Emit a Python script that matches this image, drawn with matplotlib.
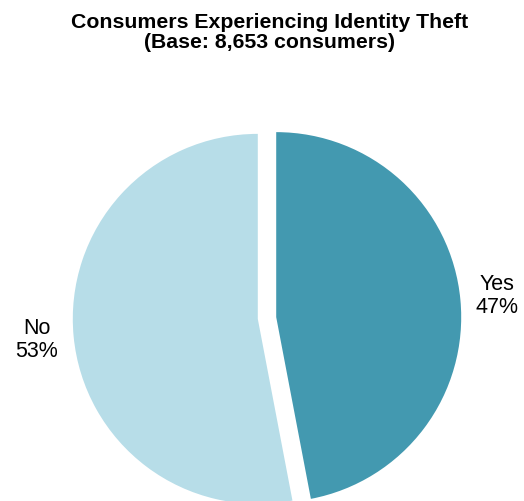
import matplotlib
matplotlib.use('Agg')
import matplotlib.pyplot as plt

plt.rcParams['font.family'] = ['Liberation Sans', 'DejaVu Sans']

labels = ['Yes', 'No']
shares = [47, 53]
colors = ['#4399b0', '#b7dde8']

fig = plt.figure(figsize=(5.24, 5.01), dpi=100)
ax = fig.add_axes([0, 0, 1, 1])

wedges, texts = ax.pie(shares, colors=colors, startangle=90, counterclock=False,
                       explode=[0.05, 0.05], radius=1.0,
                       labels=[f'{l}\n{v}%' for l, v in zip(labels, shares)],
                       labeldistance=1.2,
                       textprops=dict(fontsize=15.5, ha='center', va='center', linespacing=1.1))

ax.set_xlim(-267 / 185, (524 - 267) / 185)
ax.set_ylim(-183 / 185, (501 - 183) / 185)
ax.set_aspect('auto')
ax.axis('off')

fig.text(0.515, 0.935, 'Consumers Experiencing Identity Theft\n(Base: 8,653 consumers)',
         ha='center', va='center', fontsize=15.3, fontweight='bold', linespacing=1.05)

fig.savefig('out.png', dpi=100)
